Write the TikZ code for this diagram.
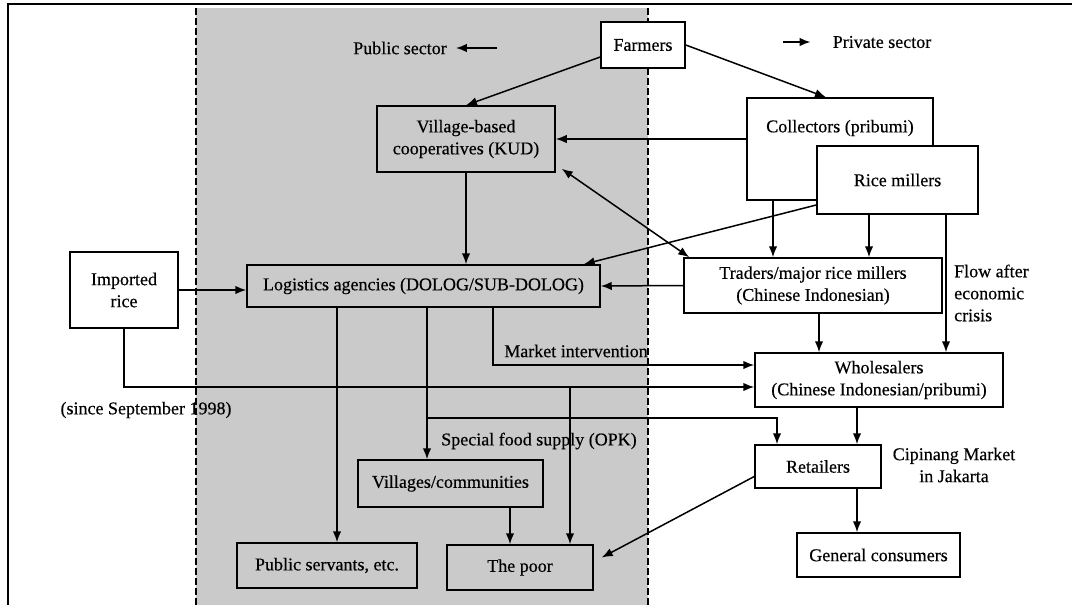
\documentclass[tikz,border=0pt]{standalone}
\usepackage{fontspec}
\setmainfont[FakeBold=0.4]{Liberation Serif}
\usetikzlibrary{
    arrows.meta,
    positioning,
    calc
}
\definecolor{ShadeGray}{RGB}{202,202,202}

\begin{document}
\begin{tikzpicture}[
    >={Latex[length=11pt,width=8.5pt]},
    x=1pt, y=-1pt,
    every node/.style={font=\fontsize{18}{22}\selectfont},
    box/.style={draw, line width=1.5pt, inner sep=0pt, align=center},
    flow/.style={->, line width=1.5pt},
    tag/.style={inner sep=0pt, align=center}
]

\useasboundingbox (0,0) rectangle (1072,605);

% Frame
\draw[line width=1.4pt]
    (8,605) -- (8,4) -- (1072,4);

% Public sector area
\fill[ShadeGray]
    (196,8) rectangle (648,605);
\draw[dash pattern=on 7pt off 3pt, line width=1.4pt]
    (196,8) -- (196,605);
\draw[dash pattern=on 7pt off 3pt, line width=1.4pt]
    (648,8) -- (648,605);

% Boxes
\node[box, fill=white, minimum width=84, minimum height=46]
    (farmers) at (643,45) {Farmers};
\node[box, minimum width=178, minimum height=66]
    (kud) at (466,139) {Village-based\\cooperatives (KUD)};
\node[box, fill=white, minimum width=186, minimum height=102]
    (coll) at (840,149) {};
\node[tag]
    (colltext) at (840,128) {Collectors (pribumi)};
\node[box, fill=white, minimum width=161, minimum height=68]
    (rice) at (897.5,180) {Rice millers};
\node[box, fill=white, minimum width=108, minimum height=76]
    (imp) at (124,290) {Imported\\rice};
\node[box, minimum width=353, minimum height=42]
    (log) at (423.5,286) {Logistics agencies (DOLOG/SUB-DOLOG)};
\node[box, fill=white, minimum width=258, minimum height=55]
    (trad) at (813,285.5) {Traders/major rice millers\\(Chinese Indonesian)};
\node[box, fill=white, minimum width=248, minimum height=54]
    (whol) at (879,380) {Wholesalers\\(Chinese Indonesian/pribumi)};
\node[box, fill=white, minimum width=126, minimum height=43]
    (ret) at (818,466.5) {Retailers};
\node[box, fill=white, minimum width=163, minimum height=44]
    (cons) at (878.5,555) {General consumers};
\node[box, minimum width=185, minimum height=47]
    (vill) at (450.5,483.5) {Villages/communities};
\node[box, minimum width=180, minimum height=45]
    (pubs) at (327,565.5) {Public servants, etc.};
\node[box, minimum width=146, minimum height=45]
    (poor) at (520,567.5) {The poor};

% Labels
\node[tag] (pubsec) at (400,48) {Public sector};
\node[tag] (prisec) at (882,42) {Private sector};
\node[tag] (market) at (576,351) {Market intervention};
\node[tag] (since) at (146,410) {(since September 1998)};
\node[tag] (opk) at (539,441) {Special food supply (OPK)};
\node[tag, align=left, anchor=west] (crisis) at (954,293) {Flow after\\economic\\crisis};
\node[tag] (cipinang) at (954,465) {Cipinang Market\\in Jakarta};

% Legend arrows
\coordinate (pubtail) at (497,48);
\coordinate (pritail) at (783,42);
\draw[flow]
    (pubtail) -- ([xshift=9]pubsec.east);
\draw[flow]
    (pritail) -- ([xshift=-22]prisec.west);

% From farmers
\draw[flow]
    ([yshift=-12]farmers.west) -- (kud.north);
\draw[flow]
    (farmers.east) -- ([xshift=-14]coll.north);

% Collectors and rice millers
\draw[flow]
    (coll.west |- kud.east) -- (kud.east);
\draw[flow]
    ([yshift=-25]rice.west) -- ([xshift=-17]log.north east);
\draw[<->, line width=1.5pt]
    ([xshift=6,yshift=4]kud.south east) -- ([xshift=6]trad.north west);
\draw[flow]
    ([xshift=-67]coll.south) -- ([xshift=-67]coll.south |- trad.north);
\draw[flow]
    ([xshift=-28.5]rice.south) -- ([xshift=-28.5]rice.south |- trad.north);
\draw[flow]
    ([xshift=48.5]rice.south) -- ([xshift=48.5]rice.south |- whol.north);

% Into logistics agencies
\draw[flow]
    (kud.south) -- (kud.south |- log.north);
\draw[flow]
    (trad.west) -- (log.east);
\draw[flow]
    (imp.east) -- (imp.east -| log.west);

% Imported rice since 1998
\draw[flow]
    (imp.south) |- ([yshift=-7]whol.west);
\coordinate (impfork) at (570,387);
\draw[flow]
    (impfork) -- (impfork |- poor.north);

% Out of logistics agencies
\draw[flow]
    ([xshift=69.5]log.south) |- ([yshift=15]whol.west);
\draw[flow]
    ([xshift=-86.5]log.south) -- ([xshift=-86.5]log.south |- pubs.north);
\draw[flow]
    ([xshift=3.5]log.south) -- ([xshift=3.5]log.south |- vill.north);
\coordinate (opkfork) at (427,418);
\draw[flow]
    (opkfork) -| ([xshift=-41]ret.north);
\draw[flow]
    ([xshift=59.5]vill.south) -- ([xshift=59.5]vill.south |- poor.north);

% Market chain
\draw[flow]
    ([xshift=6]trad.south) -- ([xshift=6]trad.south |- whol.north);
\draw[flow]
    ([xshift=-22]whol.south) -- ([xshift=-22]whol.south |- ret.north);
\draw[flow]
    ([xshift=39]ret.south) -- ([xshift=39]ret.south |- cons.north);
\draw[flow]
    ([yshift=-10]ret.west) -- ([xshift=8,yshift=10]poor.east);

\end{tikzpicture}
\end{document}
